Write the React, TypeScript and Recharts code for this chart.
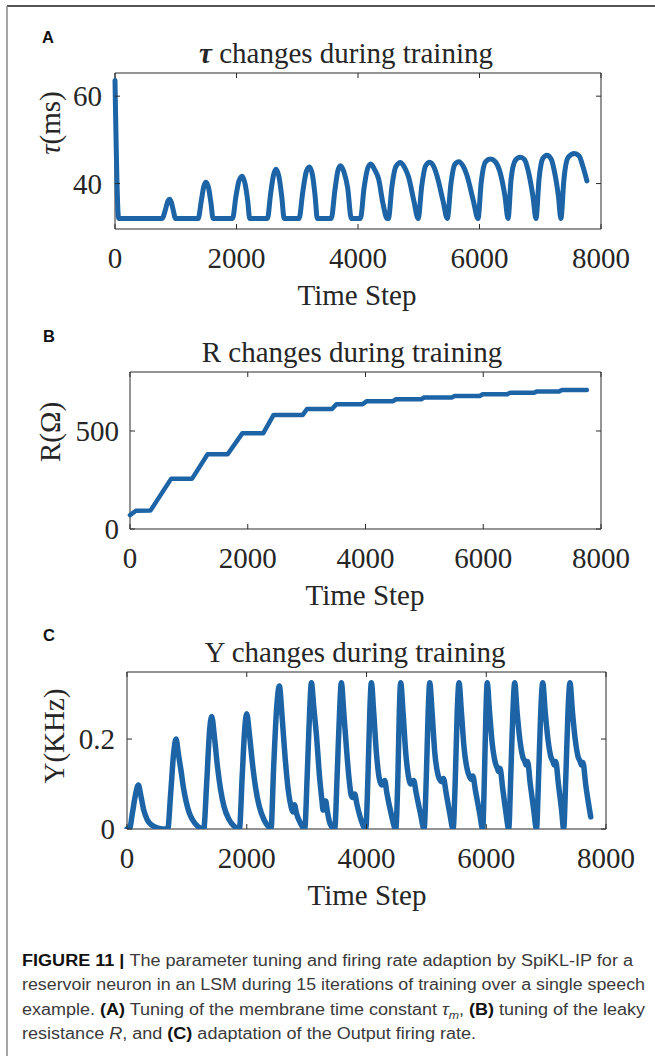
import React from 'react';
import { LineChart, Line, XAxis, YAxis, ReferenceArea } from 'recharts';

// ---------------- data ----------------
const timeTicks = [0, 2000, 4000, 6000, 8000];
const tauTicks = [40, 60];
const rTicks = [0, 500];
const yTicks = [0, 0.2];

// tau (ms) vs time step
const tauPoints: [number, number][] = [
  [0, 63.6], [60, 32], [775, 32],
  [830, 34], [870, 36], [900, 36.4], [930, 35.6], [965, 33.5], [993, 32], [1370, 32],
  [1420, 36], [1465, 39.5], [1500, 40.3], [1540, 39], [1580, 35.5], [1614, 32], [1935, 32],
  [1990, 37], [2040, 40.6], [2092, 41.7], [2140, 40], [2185, 36], [2218, 32], [2510, 32],
  [2560, 37.5], [2610, 42], [2650, 43.3], [2700, 41.5], [2745, 37], [2785, 32], [3030, 32],
  [3090, 38], [3150, 42.8], [3200, 43.8], [3250, 42], [3295, 37], [3330, 32], [3560, 32],
  [3620, 38.5], [3670, 43], [3710, 44.1], [3770, 42.6], [3830, 39], [3890, 32], [4040, 32],
  [4100, 39], [4160, 43.5], [4210, 44.5], [4280, 43], [4340, 41], [4410, 35.5], [4480, 32], [4500, 32],
  [4560, 39.5], [4620, 43.8], [4700, 44.8], [4770, 43.6], [4830, 41.6], [4920, 36], [4990, 32],
  [5050, 39.5], [5110, 44], [5180, 44.9], [5250, 43.8], [5300, 41.8], [5400, 36], [5470, 32],
  [5530, 40], [5590, 44.3], [5660, 45.0], [5730, 44], [5790, 42], [5900, 36], [5975, 32],
  [6030, 40.5], [6100, 45], [6180, 45.6], [6260, 45], [6330, 43], [6420, 37], [6470, 32],
  [6520, 41], [6590, 45.3], [6670, 46.0], [6740, 45.5], [6800, 43], [6880, 37], [6930, 32],
  [6980, 41], [7040, 45.7], [7110, 46.5], [7180, 45.6], [7230, 43], [7300, 37], [7340, 32],
  [7390, 41], [7460, 46], [7560, 46.9], [7640, 46.3], [7700, 44], [7768, 40.6],
];

// R (Ohm) vs time step
const rPoints: [number, number][] = [
  [0, 71], [100, 93], [350, 95], [700, 257], [1055, 257], [1318, 381], [1659, 381],
  [1907, 488], [2262, 488], [2439, 582], [2935, 582], [3006, 612], [3431, 612],
  [3505, 637], [3952, 637], [4023, 652], [4462, 652], [4520, 662], [4946, 662],
  [4996, 671], [5463, 671], [5513, 679], [5940, 679], [5990, 687], [6402, 687],
  [6459, 695], [6863, 695], [6913, 702], [7289, 702], [7339, 709], [7760, 709],
];

// Y (KHz) vs time step
const yPoints: [number, number][] = [
  [0, 0], [40, 0], [90, 0.035], [140, 0.075], [190, 0.098], [230, 0.075], [280, 0.042], [340, 0.02], [420, 0.008], [520, 0.002], [600, 0], [680, 0],
  [730, 0.08], [780, 0.17], [819, 0.2], [860, 0.165], [902, 0.13], [945, 0.09], [986, 0.062], [1040, 0.036], [1097, 0.02], [1180, 0.006], [1281, 0],
  [1330, 0.1], [1380, 0.22], [1415, 0.25], [1460, 0.205], [1510, 0.14], [1560, 0.09], [1620, 0.05], [1700, 0.022], [1790, 0.006], [1877, 0],
  [1925, 0.12], [1965, 0.22], [1999, 0.256], [2045, 0.21], [2100, 0.14], [2150, 0.09], [2210, 0.05], [2290, 0.02], [2370, 0.004], [2405, 0],
  [2450, 0.14], [2500, 0.27], [2545, 0.318], [2590, 0.25], [2640, 0.16], [2690, 0.09], [2740, 0.05], [2770, 0.038], [2797, 0.054], [2830, 0.035], [2900, 0.012], [2968, 0],
  [3010, 0.12], [3050, 0.26], [3080, 0.325], [3120, 0.27], [3163, 0.21], [3218, 0.113], [3257, 0.062], [3274, 0.042], [3300, 0.055], [3319, 0.062], [3345, 0.04], [3391, 0.012], [3469, 0],
  [3510, 0.12], [3550, 0.26], [3580, 0.325], [3620, 0.26], [3665, 0.18], [3710, 0.11], [3745, 0.075], [3770, 0.07], [3803, 0.078], [3840, 0.055], [3910, 0.02], [3987, 0],
  [4025, 0.12], [4055, 0.26], [4081, 0.325], [4120, 0.26], [4165, 0.17], [4210, 0.115], [4250, 0.098], [4275, 0.1], [4304, 0.108], [4340, 0.08], [4410, 0.035], [4488, 0],
  [4525, 0.12], [4548, 0.26], [4571, 0.325], [4610, 0.26], [4655, 0.17], [4700, 0.118], [4740, 0.1], [4765, 0.104], [4788, 0.108], [4830, 0.08], [4900, 0.035], [4961, 0],
  [5000, 0.12], [5030, 0.26], [5056, 0.325], [5095, 0.26], [5140, 0.17], [5195, 0.12], [5230, 0.108], [5255, 0.105], [5285, 0.112], [5330, 0.08], [5390, 0.035], [5446, 0],
  [5485, 0.12], [5515, 0.26], [5545, 0.325], [5585, 0.26], [5630, 0.18], [5690, 0.128], [5725, 0.115], [5748, 0.11], [5775, 0.118], [5820, 0.085], [5890, 0.035], [5940, 0],
  [5970, 0.12], [5995, 0.26], [6016, 0.325], [6055, 0.26], [6100, 0.19], [6150, 0.148], [6185, 0.135], [6205, 0.128], [6230, 0.135], [6275, 0.09], [6330, 0.035], [6375, 0],
  [6410, 0.12], [6445, 0.26], [6475, 0.325], [6515, 0.26], [6560, 0.2], [6610, 0.16], [6645, 0.15], [6665, 0.142], [6690, 0.15], [6735, 0.1], [6795, 0.04], [6839, 0],
  [6875, 0.12], [6910, 0.26], [6943, 0.325], [6985, 0.26], [7030, 0.2], [7080, 0.16], [7115, 0.15], [7135, 0.142], [7160, 0.15], [7205, 0.1], [7260, 0.04], [7292, 0],
  [7330, 0.12], [7365, 0.26], [7398, 0.325], [7440, 0.26], [7485, 0.2], [7535, 0.16], [7570, 0.15], [7590, 0.142], [7615, 0.148], [7660, 0.1], [7745, 0.027],
];

// ---------------- styling ----------------
const LINE = '#1c64a6';
const AXIS = '#2a2a2a';
const TEXT = '#262626';
const SERIF = "'Liberation Serif', 'Times New Roman', serif";
const SANS = "'Liberation Sans', Arial, sans-serif";
const W = 655;

const toData = (pts: [number, number][]) => pts.map(([t, v]) => ({ t, v }));

type PanelProps = {
  top: number;
  height: number;
  plotLeft: number;
  plotRight: number;
  plotTop: number; // local
  plotBottom: number; // local
  yDomain: [number, number];
  yTickValues: number[];
  yLabelGap: number;
  points: [number, number][];
  curve: 'monotone' | 'linear';
  strokeWidth: number;
};

function Panel(p: PanelProps) {
  const data = toData(p.points);
  const xTick = (props: any) => {
    const { x, payload } = props;
    return (
      <g>
        <line x1={x} x2={x} y1={p.plotBottom} y2={p.plotBottom - 5} stroke={AXIS} strokeWidth={1} />
        <line x1={x} x2={x} y1={p.plotTop} y2={p.plotTop + 5} stroke={AXIS} strokeWidth={1} />
        <text x={x} y={p.plotBottom + 39} textAnchor="middle" fontFamily={SERIF} fontSize={29} fill={TEXT}>
          {payload.value}
        </text>
      </g>
    );
  };
  const yTick = (props: any) => {
    const { y, payload } = props;
    return (
      <g>
        <line x1={p.plotLeft} x2={p.plotLeft + 5} y1={y} y2={y} stroke={AXIS} strokeWidth={1} />
        <line x1={p.plotRight} x2={p.plotRight - 5} y1={y} y2={y} stroke={AXIS} strokeWidth={1} />
        <text x={p.plotLeft - p.yLabelGap} y={y + 10} textAnchor="end" fontFamily={SERIF} fontSize={29} fill={TEXT}>
          {payload.value}
        </text>
      </g>
    );
  };
  return (
    <div style={{ position: 'absolute', left: 0, top: p.top, width: W, height: p.height }}>
      <LineChart
        width={W}
        height={p.height}
        data={data}
        margin={{ top: p.plotTop, right: W - p.plotRight, left: 0, bottom: 0 }}
      >
        <XAxis
          dataKey="t"
          type="number"
          domain={[0, 8000]}
          ticks={timeTicks}
          interval={0}
          height={p.height - p.plotBottom}
          axisLine={false}
          tickLine={false}
          tick={xTick}
        />
        <YAxis
          type="number"
          domain={p.yDomain}
          ticks={p.yTickValues}
          interval={0}
          width={p.plotLeft}
          axisLine={false}
          tickLine={false}
          tick={yTick}
          allowDataOverflow
        />
        <ReferenceArea
          x1={0}
          x2={8000}
          y1={p.yDomain[0]}
          y2={p.yDomain[1]}
          fill="none"
          fillOpacity={0}
          stroke={AXIS}
          strokeWidth={1}
          ifOverflow="visible"
        />
        <Line
          dataKey="v"
          type={p.curve}
          stroke={LINE}
          strokeWidth={p.strokeWidth}
          dot={false}
          activeDot={false}
          isAnimationActive={false}
          strokeLinejoin="round"
          strokeLinecap="round"
        />
      </LineChart>
    </div>
  );
}

export default function App() {
  return (
    <div style={{ position: 'absolute', left: 0, top: 0, width: W, height: 1056, background: '#fff', overflow: 'hidden' }}>
      <Panel
        top={0}
        height={320}
        plotLeft={115}
        plotRight={601}
        plotTop={73}
        plotBottom={229}
        yDomain={[29.6, 65.3]}
        yTickValues={tauTicks}
        yLabelGap={13}
        points={tauPoints}
        curve="monotone"
        strokeWidth={5}
      />
      <Panel
        top={320}
        height={300}
        plotLeft={130}
        plotRight={601}
        plotTop={52}
        plotBottom={209}
        yDomain={[0, 801]}
        yTickValues={rTicks}
        yLabelGap={11}
        points={rPoints}
        curve="linear"
        strokeWidth={4.5}
      />
      <Panel
        top={620}
        height={300}
        plotLeft={127}
        plotRight={606}
        plotTop={52}
        plotBottom={209}
        yDomain={[0, 0.349]}
        yTickValues={yTicks}
        yLabelGap={12}
        points={yPoints}
        curve="monotone"
        strokeWidth={5.5}
      />
      <svg
        width={W}
        height={1056}
        style={{ position: 'absolute', left: 0, top: 0, pointerEvents: 'none' }}
      >
        {/* figure frame */}
        <line x1={7} y1={6} x2={W} y2={6} stroke="#555" strokeWidth={2} />
        <line x1={7} y1={6} x2={7} y2={1056} stroke="#888" strokeWidth={1.5} />

        {/* panel letters */}
        <text x={48} y={43} textAnchor="middle" fontFamily={SANS} fontWeight="bold" fontSize={16.5} fill="#111">A</text>
        <text x={49} y={342} textAnchor="middle" fontFamily={SANS} fontWeight="bold" fontSize={16.5} fill="#111">B</text>
        <text x={49} y={641} textAnchor="middle" fontFamily={SANS} fontWeight="bold" fontSize={16.5} fill="#111">C</text>

        {/* titles */}
        <text x={346} y={63} textAnchor="middle" fontFamily={SERIF} fontSize={29} fill={TEXT}>
          <tspan fontWeight="bold" fontStyle="italic">τ</tspan> changes during training
        </text>
        <text x={352} y={362} textAnchor="middle" fontFamily={SERIF} fontSize={29} fill={TEXT}>R changes during training</text>
        <text x={355} y={662} textAnchor="middle" fontFamily={SERIF} fontSize={29} fill={TEXT}>Y changes during training</text>

        {/* x labels */}
        <text x={357} y={305} textAnchor="middle" fontFamily={SERIF} fontSize={29} fill={TEXT}>Time Step</text>
        <text x={365} y={605} textAnchor="middle" fontFamily={SERIF} fontSize={29} fill={TEXT}>Time Step</text>
        <text x={367} y={905} textAnchor="middle" fontFamily={SERIF} fontSize={29} fill={TEXT}>Time Step</text>

        {/* y labels */}
        <text transform="translate(60,123) rotate(-90)" textAnchor="middle" fontFamily={SERIF} fontSize={29} fill={TEXT}>
          <tspan fontStyle="italic">τ</tspan>(ms)
        </text>
        <text transform="translate(60,432) rotate(-90)" textAnchor="middle" fontFamily={SERIF} fontSize={29} fill={TEXT}>R(Ω)</text>
        <text transform="translate(64,736) rotate(-90)" textAnchor="middle" fontFamily={SERIF} fontSize={29} fill={TEXT}>Y(KHz)</text>

        {/* caption */}
        <g fontFamily={SANS} fontSize={16} fill="#3a3a3a">
          <text x={22} y={966} textLength={611} lengthAdjust="spacingAndGlyphs">
            <tspan fontWeight="bold" fill="#111">FIGURE 11 | </tspan>The parameter tuning and firing rate adaption by SpiKL-IP for a
          </text>
          <text x={22} y={990} textLength={623} lengthAdjust="spacingAndGlyphs">
            reservoir neuron in an LSM during 15 iterations of training over a single speech
          </text>
          <text x={22} y={1015} textLength={623} lengthAdjust="spacingAndGlyphs">
            example. <tspan fontWeight="bold" fill="#111">(A)</tspan> Tuning of the membrane time constant <tspan fontStyle="italic">τ</tspan><tspan fontStyle="italic" fontSize={11} dy={4}>m</tspan><tspan dy={-4}>, </tspan><tspan fontWeight="bold" fill="#111">(B)</tspan> tuning of the leaky
          </text>
          <text x={22} y={1039} textLength={454} lengthAdjust="spacingAndGlyphs">
            resistance <tspan fontStyle="italic">R</tspan>, and <tspan fontWeight="bold" fill="#111">(C)</tspan> adaptation of the Output firing rate.
          </text>
        </g>
      </svg>
    </div>
  );
}
